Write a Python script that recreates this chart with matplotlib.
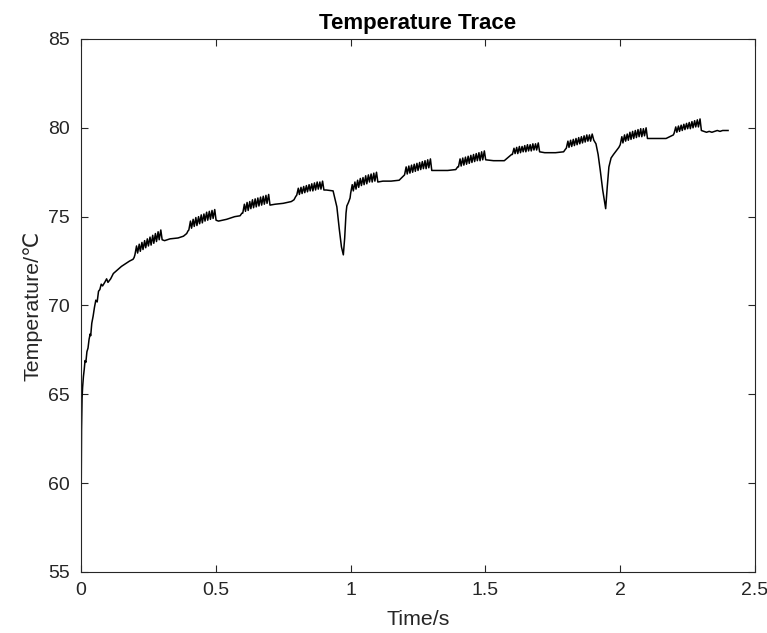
import numpy as np
import matplotlib
matplotlib.use('Agg')
import matplotlib.pyplot as plt

plt.rcParams['font.family'] = ['Liberation Sans', 'DejaVu Sans']

# initial warm-up
rise_t = [0.0, 0.001, 0.002, 0.004, 0.006, 0.009, 0.012, 0.015, 0.018, 0.022, 0.026,
          0.03, 0.034, 0.036, 0.04, 0.045, 0.05, 0.055, 0.06, 0.065, 0.07, 0.075,
          0.08, 0.088, 0.095, 0.1, 0.11, 0.12, 0.135, 0.15, 0.165, 0.18, 0.193, 0.197]
rise_T = [57.5, 60.5, 63.0, 64.8, 65.4, 66.0, 66.4, 66.9, 66.8, 67.4, 67.6,
          68.1, 68.4, 68.3, 69.0, 69.4, 69.9, 70.3, 70.2, 70.8, 70.9, 71.2,
          71.1, 71.3, 71.5, 71.3, 71.5, 71.8, 72.0, 72.2, 72.35, 72.5, 72.6, 72.7]

# heating bursts: start time, tooth troughs and tooth peaks
burst_start = [0.2, 0.4, 0.6, 0.8, 1.0, 1.2, 1.4, 1.6, 1.8, 2.0, 2.2]
burst_low = [
    [72.85, 72.95, 73.05, 73.15, 73.25, 73.35, 73.4, 73.5, 73.6, 73.7],
    [74.25, 74.35, 74.45, 74.5, 74.6, 74.65, 74.75, 74.8, 74.85, 74.9],
    [75.2, 75.3, 75.35, 75.45, 75.5, 75.55, 75.6, 75.65, 75.7, 75.75],
    [76.2, 76.25, 76.3, 76.35, 76.4, 76.45, 76.45, 76.5, 76.55, 76.55],
    [76.3, 76.45, 76.55, 76.65, 76.75, 76.8, 76.85, 76.95, 76.95, 77.0],
    [77.35, 77.4, 77.45, 77.5, 77.55, 77.6, 77.65, 77.7, 77.7, 77.75],
    [77.8, 77.85, 77.9, 77.95, 78.0, 78.05, 78.1, 78.15, 78.15, 78.2],
    [78.5, 78.55, 78.55, 78.6, 78.65, 78.65, 78.7, 78.7, 78.75, 78.75],
    [78.85, 78.9, 78.95, 79.0, 79.05, 79.1, 79.15, 79.2, 79.25, 79.25],
    [79.05, 79.15, 79.25, 79.3, 79.35, 79.4, 79.45, 79.5, 79.5, 79.55],
    [79.7, 79.75, 79.8, 79.85, 79.9, 79.95, 79.95, 80.0, 80.05, 80.05],
]
burst_high = [
    [73.35, 73.45, 73.55, 73.65, 73.75, 73.85, 73.95, 74.05, 74.15, 74.25],
    [74.75, 74.85, 74.95, 75.0, 75.1, 75.15, 75.25, 75.3, 75.35, 75.4],
    [75.7, 75.8, 75.85, 75.95, 76.0, 76.05, 76.1, 76.15, 76.2, 76.25],
    [76.6, 76.65, 76.7, 76.75, 76.8, 76.85, 76.9, 76.95, 76.95, 77.0],
    [76.8, 76.95, 77.05, 77.15, 77.2, 77.3, 77.35, 77.4, 77.45, 77.5],
    [77.8, 77.85, 77.9, 77.95, 78.0, 78.05, 78.1, 78.15, 78.2, 78.25],
    [78.25, 78.3, 78.35, 78.4, 78.45, 78.5, 78.55, 78.6, 78.65, 78.7],
    [78.85, 78.9, 78.95, 78.95, 79.0, 79.05, 79.05, 79.1, 79.1, 79.15],
    [79.25, 79.3, 79.35, 79.4, 79.45, 79.5, 79.55, 79.6, 79.6, 79.65],
    [79.5, 79.6, 79.65, 79.75, 79.8, 79.85, 79.9, 79.95, 79.95, 80.0],
    [80.05, 80.1, 80.15, 80.2, 80.25, 80.3, 80.35, 80.4, 80.45, 80.5],
]
TOOTH_PERIOD = 0.01

# pauses after each burst (incl. the two dips)
gap_t = [
    [0.301, 0.31, 0.33, 0.36, 0.38, 0.392, 0.397],
    [0.501, 0.51, 0.54, 0.57, 0.59, 0.597],
    [0.701, 0.72, 0.75, 0.78, 0.79, 0.797],
    [0.901, 0.91, 0.935, 0.942, 0.949, 0.958, 0.966, 0.973, 0.978, 0.983, 0.986, 0.992, 0.998],
    [1.101, 1.12, 1.15, 1.18, 1.19, 1.197],
    [1.301, 1.32, 1.36, 1.39, 1.397],
    [1.501, 1.53, 1.57, 1.597],
    [1.701, 1.72, 1.76, 1.79, 1.797],
    [1.902, 1.91, 1.918, 1.926, 1.935, 1.946, 1.952, 1.958, 1.966, 1.975, 1.985, 1.995],
    [2.101, 2.13, 2.17, 2.197],
    [2.301, 2.31, 2.32, 2.33, 2.34, 2.35, 2.36, 2.37, 2.38, 2.39, 2.4],
]
gap_T = [
    [73.7, 73.65, 73.75, 73.8, 73.9, 74.05, 74.2],
    [74.8, 74.75, 74.85, 75.0, 75.05, 75.2],
    [75.65, 75.7, 75.75, 75.85, 75.95, 76.15],
    [76.5, 76.5, 76.45, 76.0, 75.55, 74.3, 73.3, 72.85, 73.8, 75.2, 75.6, 75.8, 76.05],
    [76.95, 77.0, 77.0, 77.05, 77.2, 77.3],
    [77.6, 77.6, 77.6, 77.65, 77.8],
    [78.2, 78.15, 78.15, 78.5],
    [78.65, 78.6, 78.6, 78.65, 78.8],
    [79.3, 79.1, 78.5, 77.6, 76.5, 75.45, 76.7, 77.8, 78.3, 78.5, 78.7, 78.9],
    [79.4, 79.4, 79.4, 79.6],
    [79.85, 79.8, 79.75, 79.8, 79.75, 79.8, 79.85, 79.8, 79.85, 79.85, 79.85],
]

# stitch the trace together
t = list(rise_t)
T = list(rise_T)
for start, lows, highs, gt, gT in zip(burst_start, burst_low, burst_high, gap_t, gap_T):
    for k, (lo, hi) in enumerate(zip(lows, highs)):
        t += [start + k * TOOTH_PERIOD, start + k * TOOTH_PERIOD + 0.006]
        T += [lo, hi]
    t += gt
    T += gT

fig = plt.figure(figsize=(7.67, 6.33), dpi=100)
ax = fig.add_axes([0.1056, 0.0964, 0.8788, 0.842])
ax.plot(t, T, color='black', linewidth=1.1)

ax.set_xlim(0, 2.5)
ax.set_ylim(55, 85)
ax.set_xticks([0, 0.5, 1, 1.5, 2, 2.5])
ax.set_xticklabels(['0', '0.5', '1', '1.5', '2', '2.5'])
ax.set_yticks([55, 60, 65, 70, 75, 80, 85])
ax.tick_params(direction='in', top=True, right=True, length=5, width=0.8,
               labelsize=14, colors='#262626')
ax.tick_params(axis='x', pad=7)
ax.tick_params(axis='y', pad=8)
for s in ax.spines.values():
    s.set_linewidth(0.8)
    s.set_color('#262626')

ax.set_xlabel('Time/s', fontsize=15.4, color='#262626', labelpad=8)
ax.set_ylabel('Temperature/℃', fontsize=15.4, color='#262626', labelpad=4)
ax.set_title('Temperature Trace', fontsize=16, fontweight='bold', pad=7)

fig.savefig('out.png', dpi=100)
